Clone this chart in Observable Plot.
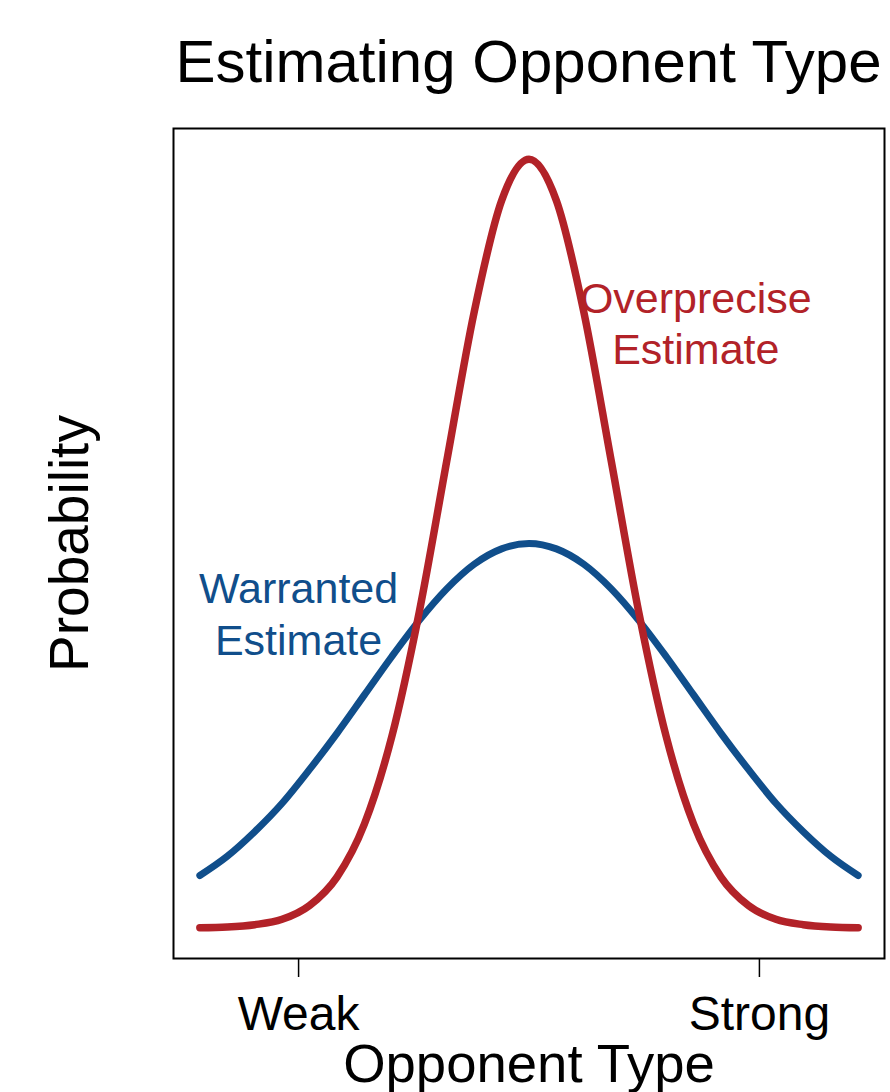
<!DOCTYPE html>
<html>
<head>
<meta charset="utf-8">
<script src="https://cdn.jsdelivr.net/npm/d3@7"></script>
<script src="https://cdn.jsdelivr.net/npm/@observablehq/plot@0.6"></script>
<style>
  html, body { margin: 0; padding: 0; background: #fff; }
  body { width: 890px; height: 1092px; overflow: hidden; font-family: "Liberation Sans", Arial, Helvetica, sans-serif; }
  #title { position: relative; height: 100px; width: 890px; }
  #title span { position: absolute; left: 173px; width: 711px; top: 32px; text-align: center; font-size: 60px; line-height: 60px; color: #000; white-space: nowrap; }
  svg { display: block; }
</style>
</head>
<body>
<div id="title"><span>Estimating Opponent Type</span></div>
<div id="chart"></div>
<script>
// Opponent type positions (arbitrary units)
const xs = [-3, -2.75, -2.5, -2.25, -2, -1.75, -1.5, -1.25, -1, -0.75, -0.5, -0.25, 0,
             0.25, 0.5, 0.75, 1, 1.25, 1.5, 1.75, 2, 2.25, 2.5, 2.75, 3];
// Warranted estimate (blue), relative probability
const warranted = [0.068, 0.093, 0.125, 0.162, 0.206, 0.253, 0.303, 0.353, 0.400, 0.441, 0.473, 0.493, 0.500,
                   0.493, 0.473, 0.441, 0.400, 0.353, 0.303, 0.253, 0.206, 0.162, 0.125, 0.093, 0.068];
// Overprecise estimate (red)
const overprecise = [0.000, 0.001, 0.004, 0.011, 0.029, 0.066, 0.135, 0.249, 0.411, 0.607, 0.801, 0.946, 1.000,
                     0.946, 0.801, 0.607, 0.411, 0.249, 0.135, 0.066, 0.029, 0.011, 0.004, 0.001, 0.000];
// Tick labels
const tickValues = [-2.1, 2.1];
const tickLabels = ["Weak", "Strong"];
// Annotations
const labelText = ["Overprecise\nEstimate", "Warranted\nEstimate"];
const labelX = [1.52, -2.1];
const labelY = [0.733, 0.355];
const labelColor = ["#B22228", "#104E8B"];

const blueData = xs.map((x, i) => ({x, y: warranted[i]}));
const redData = xs.map((x, i) => ({x, y: overprecise[i]}));
const labels = labelText.map((t, i) => ({t, x: labelX[i], y: labelY[i], c: labelColor[i]}));

const chart = Plot.plot({
  width: 890,
  height: 992,
  marginLeft: 173,
  marginRight: 6,
  marginTop: 28,
  marginBottom: 134,
  style: { fontFamily: "'Liberation Sans', Arial, Helvetica, sans-serif", background: "white", color: "black" },
  x: { domain: [-3.24, 3.24] },
  y: { domain: [-0.04, 1.04], axis: null },
  marks: [
    Plot.frame({ stroke: "black", strokeWidth: 2 }),
    Plot.axisX({
      ticks: tickValues,
      tickFormat: (d, i) => tickLabels[i],
      tickSize: 19,
      tickPadding: 18,
      fontSize: 48,
      strokeWidth: 1.5,
      label: null
    }),
    Plot.line(blueData, { x: "x", y: "y", stroke: "#104E8B", strokeWidth: 7, curve: "monotone-x", strokeLinecap: "round" }),
    Plot.line(redData, { x: "x", y: "y", stroke: "#B22228", strokeWidth: 7.5, curve: "monotone-x", strokeLinecap: "round" }),
    Plot.text(labels, { x: "x", y: "y", text: "t", fill: "c", fontSize: 43, lineAnchor: "bottom", lineHeight: 1.2, textAnchor: "middle" }),
    Plot.text(["Opponent Type"], { frameAnchor: "bottom", lineAnchor: "bottom", textAnchor: "middle", dy: 123, fontSize: 54.5, fill: "black" }),
    Plot.text(["Probability"], { frameAnchor: "left", lineAnchor: "bottom", textAnchor: "middle", rotate: -90, dx: -86, fontSize: 55, fill: "black" })
  ]
});
document.getElementById("chart").appendChild(chart);
</script>
</body>
</html>
